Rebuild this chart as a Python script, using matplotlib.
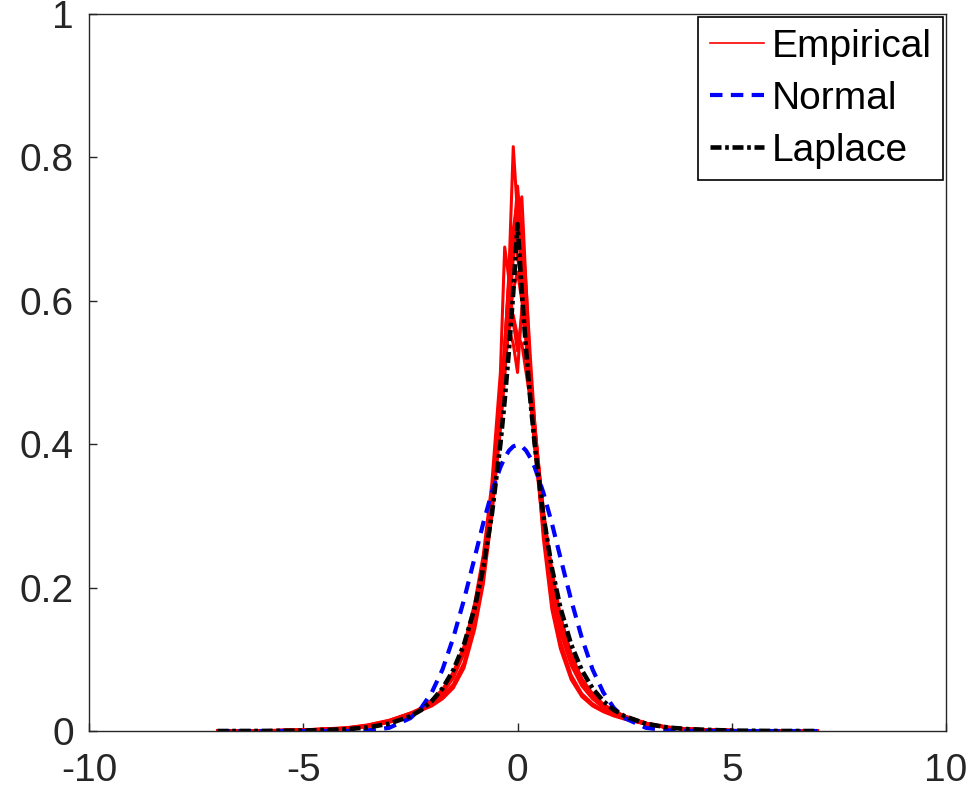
import matplotlib
matplotlib.use("Agg")
import matplotlib.pyplot as plt

plt.rcParams["font.family"] = ["Liberation Sans", "DejaVu Sans"]
plt.rcParams["axes.unicode_minus"] = False

# shared x grid of the sampled curves
x_grid = [-7, -6, -5, -4, -3.5, -3, -2.5, -2.25, -2, -1.75, -1.5, -1.25, -1,
          -0.8, -0.6, -0.4, -0.3, -0.2, -0.1, 0, 0.1, 0.2, 0.3, 0.4, 0.6, 0.8,
          1, 1.25, 1.5, 1.75, 2, 2.25, 2.5, 3, 3.5, 4, 5, 6, 7]

# empirical densities (one list per curve)
emp_1 = [0.0000, 0.0004, 0.0012, 0.0035, 0.0068, 0.0130, 0.0230, 0.0300, 0.0400, 0.0540,
         0.0760, 0.1120, 0.1680, 0.2300, 0.3150, 0.4400, 0.5300, 0.6400, 0.8150, 0.7200,
         0.6300, 0.5500, 0.4700, 0.4000, 0.2850, 0.2050, 0.1480, 0.0980, 0.0680, 0.0480,
         0.0350, 0.0260, 0.0190, 0.0100, 0.0050, 0.0025, 0.0008, 0.0002, 0.0000]
emp_2 = [0.0000, 0.0003, 0.0010, 0.0032, 0.0062, 0.0120, 0.0215, 0.0285, 0.0390, 0.0530,
         0.0740, 0.1080, 0.1620, 0.2200, 0.3050, 0.4200, 0.4950, 0.5800, 0.6600, 0.7100,
         0.7450, 0.6200, 0.5000, 0.4100, 0.2900, 0.2000, 0.1420, 0.0950, 0.0650, 0.0460,
         0.0330, 0.0240, 0.0180, 0.0095, 0.0048, 0.0024, 0.0007, 0.0002, 0.0000]
emp_3 = [0.0000, 0.0004, 0.0013, 0.0038, 0.0072, 0.0135, 0.0240, 0.0310, 0.0420, 0.0570,
         0.0800, 0.1150, 0.1720, 0.2350, 0.3250, 0.4500, 0.5200, 0.6000, 0.6700, 0.7200,
         0.6500, 0.5600, 0.4800, 0.4150, 0.3000, 0.2150, 0.1550, 0.1030, 0.0700, 0.0500,
         0.0360, 0.0270, 0.0200, 0.0105, 0.0052, 0.0026, 0.0008, 0.0002, 0.0000]
emp_4 = [0.0000, 0.0003, 0.0011, 0.0033, 0.0065, 0.0125, 0.0225, 0.0295, 0.0405, 0.0555,
         0.0780, 0.1130, 0.1700, 0.2330, 0.3200, 0.4450, 0.5350, 0.6300, 0.7000, 0.6600,
         0.6250, 0.5400, 0.4650, 0.3950, 0.2800, 0.1950, 0.1380, 0.0920, 0.0630, 0.0450,
         0.0330, 0.0245, 0.0182, 0.0098, 0.0049, 0.0024, 0.0007, 0.0002, 0.0000]
emp_5 = [0.0000, 0.0004, 0.0014, 0.0040, 0.0075, 0.0140, 0.0250, 0.0320, 0.0430, 0.0580,
         0.0820, 0.1180, 0.1780, 0.2450, 0.3450, 0.5000, 0.6750, 0.6300, 0.5700, 0.5300,
         0.5800, 0.5500, 0.4900, 0.4200, 0.3050, 0.2200, 0.1600, 0.1060, 0.0720, 0.0510,
         0.0370, 0.0275, 0.0205, 0.0108, 0.0054, 0.0027, 0.0008, 0.0002, 0.0000]
emp_6 = [0.0000, 0.0003, 0.0012, 0.0036, 0.0070, 0.0132, 0.0235, 0.0305, 0.0415, 0.0565,
         0.0790, 0.1140, 0.1710, 0.2320, 0.3150, 0.4300, 0.5000, 0.5700, 0.6150, 0.6400,
         0.6000, 0.5500, 0.4900, 0.4250, 0.3100, 0.2150, 0.1500, 0.0980, 0.0660, 0.0470,
         0.0345, 0.0255, 0.0190, 0.0100, 0.0050, 0.0025, 0.0007, 0.0002, 0.0000]
emp_7 = [0.0000, 0.0004, 0.0012, 0.0034, 0.0066, 0.0128, 0.0228, 0.0298, 0.0408, 0.0558,
         0.0785, 0.1130, 0.1690, 0.2300, 0.3200, 0.4400, 0.5100, 0.5600, 0.5400, 0.5000,
         0.5900, 0.5700, 0.5000, 0.4300, 0.3000, 0.2100, 0.1450, 0.0960, 0.0650, 0.0465,
         0.0340, 0.0250, 0.0185, 0.0098, 0.0049, 0.0024, 0.0007, 0.0002, 0.0000]
emp_8 = [0.0000, 0.0004, 0.0013, 0.0037, 0.0070, 0.0133, 0.0238, 0.0308, 0.0418, 0.0568,
         0.0795, 0.1150, 0.1730, 0.2380, 0.3300, 0.4550, 0.5200, 0.5600, 0.5800, 0.5500,
         0.5400, 0.5000, 0.4600, 0.4100, 0.3050, 0.2250, 0.1600, 0.1070, 0.0730, 0.0520,
         0.0375, 0.0280, 0.0210, 0.0110, 0.0055, 0.0028, 0.0008, 0.0002, 0.0000]
emp_9 = [0.0000, 0.0005, 0.0015, 0.0042, 0.0080, 0.0145, 0.0245, 0.0300, 0.0380, 0.0490,
         0.0650, 0.0950, 0.1500, 0.2150, 0.3100, 0.4500, 0.5400, 0.6300, 0.7000, 0.7400,
         0.7000, 0.6200, 0.5200, 0.4300, 0.2800, 0.1800, 0.1250, 0.0780, 0.0520, 0.0380,
         0.0290, 0.0225, 0.0175, 0.0100, 0.0052, 0.0027, 0.0008, 0.0002, 0.0000]
emp_10 = [0.0000, 0.0005, 0.0016, 0.0045, 0.0085, 0.0150, 0.0250, 0.0290, 0.0350, 0.0450,
          0.0600, 0.0880, 0.1420, 0.2050, 0.3000, 0.4350, 0.5150, 0.6000, 0.6800, 0.7600,
          0.6900, 0.6000, 0.5000, 0.4150, 0.2700, 0.1700, 0.1150, 0.0720, 0.0480, 0.0350,
          0.0270, 0.0210, 0.0165, 0.0095, 0.0050, 0.0026, 0.0008, 0.0002, 0.0000]
empirical = [emp_1, emp_2, emp_3, emp_4, emp_5, emp_6, emp_7, emp_8, emp_9, emp_10]

normal = [0.0000, 0.0000, 0.0000, 0.0001, 0.0009, 0.0044, 0.0180, 0.0320, 0.0540, 0.0860,
          0.1300, 0.1830, 0.2420, 0.2900, 0.3330, 0.3680, 0.3810, 0.3910, 0.3970, 0.3990,
          0.3970, 0.3910, 0.3810, 0.3680, 0.3330, 0.2900, 0.2420, 0.1830, 0.1300, 0.0860,
          0.0540, 0.0320, 0.0180, 0.0044, 0.0009, 0.0001, 0.0000, 0.0000, 0.0000]
laplace = [0.0000, 0.0001, 0.0006, 0.0025, 0.0050, 0.0102, 0.0206, 0.0293, 0.0418, 0.0595,
           0.0848, 0.1207, 0.1720, 0.2277, 0.3018, 0.4003, 0.4612, 0.5312, 0.6119, 0.7070,
           0.6119, 0.5312, 0.4612, 0.4003, 0.3018, 0.2277, 0.1720, 0.1207, 0.0848, 0.0595,
           0.0418, 0.0293, 0.0206, 0.0102, 0.0050, 0.0025, 0.0006, 0.0001, 0.0000]

x_ticks = [-10, -5, 0, 5, 10]
y_ticks = [0, 0.2, 0.4, 0.6, 0.8, 1]
y_tick_labels = ["0", "0.2", "0.4", "0.6", "0.8", "1"]

AX_GRAY = "#262626"
FS = 28

fig = plt.figure(figsize=(9.72, 7.94), dpi=100)
ax = fig.add_axes([0.0916, 0.0793, 0.8817, 0.9031])

for i, ys in enumerate(empirical):
    ax.plot(x_grid, ys, color="red", lw=2.2,
            label="Empirical" if i == 0 else None)
ax.plot(x_grid, normal, color="blue", lw=3, linestyle=(0, (3, 2)), label="Normal")
ax.plot(x_grid, laplace, color="black", lw=3.3,
        linestyle=(0, (2.4, 0.8, 0.8, 0.8)), label="Laplace")

ax.set_xlim(-10, 10)
ax.set_ylim(0, 1)
ax.set_xticks(x_ticks)
ax.set_yticks(y_ticks)
ax.set_yticklabels(y_tick_labels)
ax.tick_params(direction="in", length=6, width=1, colors=AX_GRAY,
               labelsize=FS, top=False, right=False)
ax.tick_params(axis="x", pad=16)
ax.tick_params(axis="y", pad=11)
for sp in ax.spines.values():
    sp.set_color(AX_GRAY)
    sp.set_linewidth(1)

leg = ax.legend(loc="upper right", fontsize=FS, frameon=True, fancybox=False,
                framealpha=1, edgecolor="black", handlelength=1.4,
                handletextpad=0.18, labelspacing=0.41,
                borderpad=0.3, borderaxespad=0.08)
leg.get_frame().set_linewidth(1.2)
# thin handle for the empirical curves, as in the reference legend
leg.get_lines()[0].set_linewidth(1.2)

fig.savefig("out.png", dpi=100)
